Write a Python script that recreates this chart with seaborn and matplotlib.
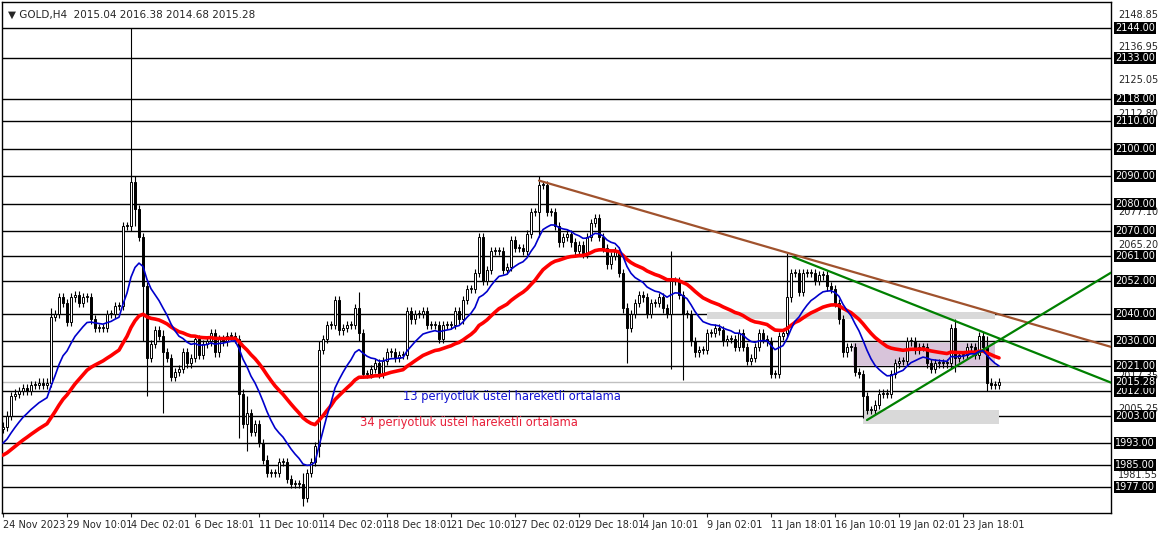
import numpy as np
import pandas as pd
import matplotlib
matplotlib.use("Agg")
import matplotlib.pyplot as plt
import seaborn as sns

# closing prices, H4 bars
closes = [
    # 24 Nov - 11 Dec
    1999, 2003, 2010, 2011, 2012, 2013, 2012, 2014, 2014, 2015, 2014, 2015, 2039, 2040, 2046, 2044,
    2037, 2046, 2047, 2044, 2046, 2046, 2038, 2035, 2035, 2035, 2040, 2040, 2043, 2043, 2072, 2072,
    2088, 2078, 2068, 2050, 2024, 2029, 2034, 2032, 2026, 2024, 2017, 2019, 2020, 2026, 2022, 2024,
    2031, 2025, 2029, 2030, 2033, 2026, 2031, 2030, 2032, 2032, 2031, 2011, 2000, 2004, 1997, 2000,
    1993,
    # 11 Dec - 27 Dec
    1987, 1982, 1982, 1982, 1986, 1986, 1980, 1978, 1978, 1978, 1973, 1982, 1986, 1992, 2027, 2031,
    2036, 2036, 2045, 2034, 2035, 2036, 2036, 2042, 2033, 2018, 2018, 2020, 2022, 2018, 2023, 2026,
    2026, 2024, 2025, 2025, 2041, 2038, 2040, 2040, 2041, 2036, 2036, 2036, 2031, 2036, 2036, 2036,
    2041, 2038, 2045, 2049, 2049, 2055, 2068, 2052, 2056, 2063, 2063, 2063, 2056, 2057,
    # 27 Dec - 11 Jan
    2067, 2064, 2064, 2063, 2069, 2077, 2077, 2087, 2087, 2077, 2077, 2072, 2066, 2068, 2069, 2066,
    2063, 2065, 2062, 2068, 2073, 2075, 2068, 2064, 2058, 2061, 2063, 2055, 2042, 2035, 2040, 2044,
    2047, 2046, 2040, 2044, 2044, 2046, 2042, 2040, 2052, 2052, 2047, 2040, 2040, 2030, 2026, 2027,
    2027, 2033, 2033, 2035, 2034, 2030, 2031, 2031, 2028, 2033, 2028, 2023, 2024, 2028, 2033,
    # 11 Jan - 24 Jan
    2031, 2030, 2018, 2018, 2032, 2033, 2046, 2055, 2055, 2048, 2055, 2055, 2055, 2052, 2054, 2054,
    2050, 2049, 2044, 2038, 2026, 2028, 2028, 2019, 2018, 2010, 2005, 2005, 2007, 2011, 2011, 2011,
    2018, 2022, 2023, 2023, 2030, 2030, 2027, 2028, 2028, 2022, 2020, 2022, 2022, 2022, 2022, 2035,
    2024, 2025, 2025, 2028, 2028, 2025, 2032, 2028, 2015, 2014, 2014, 2015.28,
]
# bars with a long wick: index -> (high, low)
big_wicks = {12: (2042, 2024), 32: (2144, 2070), 33: (2090, 2072), 35: (2056, 2030),
             36: (2040, 2010), 40: (2034, 2004), 59: (2032, 1995), 61: (2010, 1990),
             75: (1982, 1970), 79: (2030, 1988), 89: (2048, 2030), 134: (2090, 2068),
             156: (2044, 2022), 167: (2063, 2020), 170: (2042, 2016), 196: (2062, 2038),
             215: (2018, 2002), 238: (2038, 2019), 246: (2032, 2012)}

ema_fast_n = 13
ema_slow_n = 34
# moving-average values just before the first visible bar
ema_fast_seed = 1992
ema_slow_seed = 1988
h_levels = [2144, 2133, 2118, 2110, 2100, 2090, 2080, 2070, 2061, 2052, 2040, 2030, 2021,
            2012, 2003, 1993, 1985, 1977]
minor_levels = [2148.85, 2136.95, 2125.05, 2112.80, 2077.10, 2065.20, 2017.35, 2005.25, 1981.55]
last_price = 2015.28
date_labels = ["24 Nov 2023", "29 Nov 10:01", "4 Dec 02:01", "6 Dec 18:01", "11 Dec 10:01",
               "14 Dec 02:01", "18 Dec 18:01", "21 Dec 10:01", "27 Dec 02:01", "29 Dec 18:01",
               "4 Jan 10:01", "9 Jan 02:01", "11 Jan 18:01", "16 Jan 10:01", "19 Jan 02:01",
               "23 Jan 18:01"]


def ema(values, span, seed):
    a = 2 / (span + 1)
    out, prev = [], seed
    for v in values:
        prev = prev + a * (v - prev)
        out.append(prev)
    return out


n = len(closes)
df = pd.DataFrame({"bar": np.arange(n), "close": closes})
df["open"] = df["close"].shift(1).fillna(df["close"].iloc[0] - 1)
df["high"] = df[["open", "close"]].max(axis=1) + 1.5
df["low"] = df[["open", "close"]].min(axis=1) - 1.5
for i, (h, l) in big_wicks.items():
    if i < n:
        df.loc[i, "high"] = max(h, df.loc[i, "high"])
        df.loc[i, "low"] = min(l, df.loc[i, "low"])
df["ema13"] = ema(closes, ema_fast_n, ema_fast_seed)
df["ema34"] = ema(closes, ema_slow_n, ema_slow_seed)

sns.set_style("white")
plt.rcParams["font.family"] = ["DejaVu Sans"]

W, H = 1158, 533
fig = plt.figure(figsize=(W / 100, H / 100), dpi=100)
ax = fig.add_axes([2 / W, 20 / H, 1109 / W, 511 / H])
px = 2.749  # pixels per dollar
ax.set_ylim(2144 - 485 / px, 2144 + 26 / px)
ax.set_xlim(-0.25, 277)

for lv in h_levels:
    ax.axhline(lv, color="black", lw=1, zorder=1)
ax.axhline(last_price, color="#c0c0c0", lw=1, zorder=1)

# zones
ax.fill_between([176, 248], 2038, 2040.7, color="#d9d9d9", zorder=1.5, lw=0)
ax.fill_between([215, 249], 2000, 2005, color="#d9d9d9", zorder=1.5, lw=0)
ax.fill_between([212.5, 248], 2021, 2029.4, color="#d8c4da", zorder=1.5, lw=0)

# candles
up = df["close"] >= df["open"]
ax.vlines(df["bar"], df["low"], df["high"], color="black", lw=0.8, zorder=3)
body = (df["close"] - df["open"]).abs().clip(lower=0.4)
bottom = df[["open", "close"]].min(axis=1)
ax.bar(df["bar"][up], body[up], bottom=bottom[up], width=0.6, color="white",
       edgecolor="black", lw=0.7, zorder=4)
ax.bar(df["bar"][~up], body[~up], bottom=bottom[~up], width=0.6, color="black",
       edgecolor="black", lw=0.7, zorder=4)

sns.lineplot(data=df, x="bar", y="ema34", color="#ff0000", lw=2.6, ax=ax, zorder=5)
sns.lineplot(data=df, x="bar", y="ema13", color="#0000cc", lw=1.2, ax=ax, zorder=6)

# trend lines
ax.plot([134, 277], [2088.5, 2028], color="#a0522d", lw=1.6, zorder=5)
ax.plot([197.5, 277], [2060.7, 2015], color="#008000", lw=1.6, zorder=5)
ax.plot([216, 277], [2001.4, 2055], color="#008000", lw=1.6, zorder=5)

ax.text(100, 2010, "13 periyotluk üstel hareketli ortalama", color="#1010d0", fontsize=8.3,
        va="center")
ax.text(89.3, 2000.5, "34 periyotluk üstel hareketli ortalama", color="#e8203a", fontsize=8.3,
        va="center")
ax.text(0.005, 0.985, "\u25bc GOLD,H4  2015.04 2016.38 2014.68 2015.28", transform=ax.transAxes,
        fontsize=7.5, va="top", ha="left")

# right price scale
ax.yaxis.tick_right()
ax.set_yticks([])
ax.set_ylabel("")
ax.set_xlabel("")
for lv in minor_levels:
    ax.annotate(f"{lv:.2f}", xy=(1, lv), xycoords=("axes fraction", "data"), xytext=(5, 0),
                textcoords="offset points", fontsize=7, va="center", ha="left")
for lv in h_levels + [last_price]:
    ax.annotate(f"{lv:.2f}", xy=(1, lv), xycoords=("axes fraction", "data"), xytext=(3, 0),
                textcoords="offset points", fontsize=7, va="center", ha="left", color="white",
                bbox=dict(boxstyle="square,pad=0.1", fc="black", ec="none"))

ax.set_xticks(np.arange(0, 16 * len(date_labels), 16))
ax.set_xticklabels(date_labels, fontsize=7, ha="left")
ax.tick_params(axis="x", length=3, pad=2, direction="out", bottom=True)
for s in ax.spines.values():
    s.set_color("black")
    s.set_linewidth(1)

fig.savefig("out.png", dpi=100)
